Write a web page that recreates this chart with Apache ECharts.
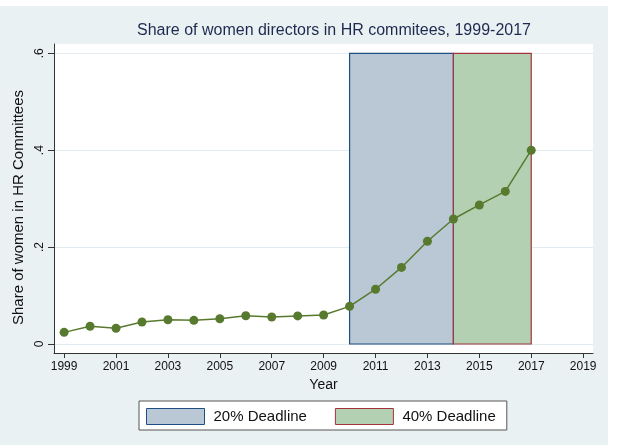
<!DOCTYPE html>
<html>
<head>
<meta charset="utf-8">
<script src="https://cdn.jsdelivr.net/npm/echarts@6/dist/echarts.min.js"></script>
<style>
  html, body { margin: 0; padding: 0; background: #fff; }
  #chart { width: 618px; height: 445px; }
</style>
</head>
<body>
<div id="chart"></div>
<script>
  // data
  const years = [1999, 2000, 2001, 2002, 2003, 2004, 2005, 2006, 2007, 2008,
                 2009, 2010, 2011, 2012, 2013, 2014, 2015, 2016, 2017];
  const share = [0.024, 0.0365, 0.0324, 0.0454, 0.050, 0.0488, 0.052, 0.0584, 0.0557, 0.058,
                 0.0598, 0.0777, 0.113, 0.158, 0.212, 0.258, 0.287, 0.315, 0.400];
  const xTicks = [1999, 2001, 2003, 2005, 2007, 2009, 2011, 2013, 2015, 2017, 2019];
  const yTicks = [0, 0.2, 0.4, 0.6];
  // deadline boxes: [name, start year, end year, top]
  const box20 = ['20% Deadline', 2010, 2014, 0.6];
  const box40 = ['40% Deadline', 2014, 2017, 0.6];

  const font = 'Liberation Sans, Arial, sans-serif';
  const chart = echarts.init(document.getElementById('chart'));

  function boxSeries(b, fill, border) {
    return {
      type: 'line',
      name: b[0],
      data: [],
      z: 1,
      itemStyle: {color: fill, borderColor: border, borderWidth: 1},
      markArea: {
        silent: true,
        itemStyle: {color: fill, borderColor: border, borderWidth: 1.2, opacity: 1},
        data: [[{coord: [b[1], 0]}, {coord: [b[2], b[3]]}]]
      }
    };
  }

  const option = {
    animation: false,
    textStyle: {fontFamily: font},
    graphic: [{
      type: 'rect', z: -10, silent: true,
      shape: {x: 0, y: 6, width: 608, height: 439},
      style: {fill: '#eaf1f3'}
    }],
    title: {
      text: 'Share of women directors in HR commitees, 1999-2017',
      left: 329, top: 18, textAlign: 'center',
      textStyle: {fontFamily: font, fontSize: 16, fontWeight: 'normal', color: '#1c2a4f'}
    },
    grid: {
      left: 54, right: 25, top: 44, bottom: 92,
      show: true, backgroundColor: '#ffffff', borderWidth: 0
    },
    legend: {
      left: 139, top: 401,
      icon: 'rect',
      itemWidth: 58, itemHeight: 16, itemGap: 28,
      padding: [7, 11, 5, 7],
      backgroundColor: '#ffffff', borderColor: '#555', borderWidth: 1, borderRadius: 0,
      textStyle: {fontFamily: font, fontSize: 15, color: '#111', padding: [0, 0, 0, 4]},
      data: [
        {name: box20[0], itemStyle: {color: '#b9c8d4', borderColor: '#1f4e85', borderWidth: 1}},
        {name: box40[0], itemStyle: {color: '#b3d0b3', borderColor: '#a3343d', borderWidth: 1}}
      ]
    },
    xAxis: {
      type: 'value', min: 1998.61, max: 2019.38,
      name: 'Year', nameLocation: 'middle', nameGap: 22,
      nameTextStyle: {fontFamily: font, fontSize: 14, color: '#111'},
      axisLine: {show: true, onZero: false, lineStyle: {color: '#333', width: 1}},
      axisTick: {show: true, length: 5, customValues: xTicks, lineStyle: {color: '#333'}},
      axisLabel: {customValues: xTicks, fontSize: 12, color: '#111', margin: 8,
                  formatter: v => String(v)},
      splitLine: {show: false}
    },
    yAxis: {
      type: 'value', min: -0.0186, max: 0.6192,
      name: 'Share of women in HR Committees', nameLocation: 'middle', nameGap: 27,
      nameTextStyle: {fontFamily: font, fontSize: 15, color: '#111', padding: [0, 18, 0, 0]},
      axisLine: {show: true, onZero: false, lineStyle: {color: '#333', width: 1}},
      axisTick: {show: true, length: 6, customValues: yTicks, lineStyle: {color: '#333'}},
      axisLabel: {customValues: yTicks, rotate: 90, fontSize: 12, color: '#111', margin: 8,
                  formatter: v => v === 0 ? '0' : String(+v.toFixed(1)).replace(/^0/, '')},
      splitLine: {show: true, customValues: yTicks, lineStyle: {color: '#e2ebf0', width: 1}}
    },
    series: [
      boxSeries(box20, '#b9c8d4', '#1f4e85'),
      boxSeries(box40, '#b3d0b3', '#a3343d'),
      {
        type: 'line',
        name: 'share',
        z: 5,
        data: years.map((y, i) => [y, share[i]]),
        symbol: 'circle', symbolSize: 9,
        itemStyle: {color: '#587a2e'},
        lineStyle: {color: '#587a2e', width: 1.5}
      }
    ]
  };
  chart.setOption(option);
</script>
</body>
</html>
